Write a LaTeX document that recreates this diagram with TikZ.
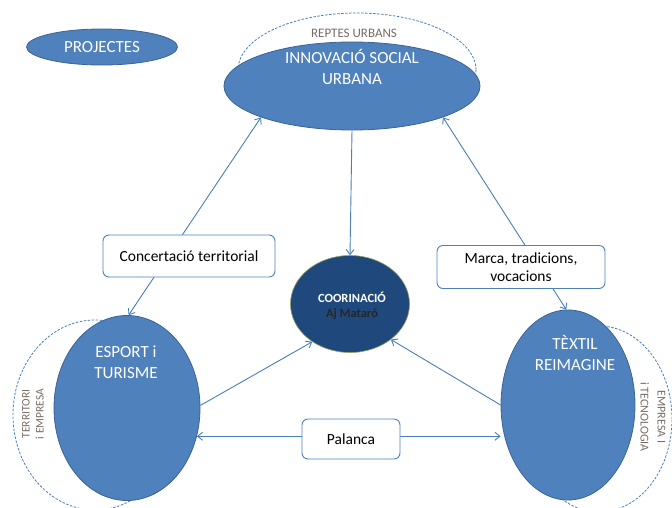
\documentclass[tikz,border=0pt]{standalone}
\usepackage{fontspec}
\setmainfont{Carlito}
\usetikzlibrary{shapes.geometric,arrows.meta}
\definecolor{blfill}{HTML}{4F81BD}
\definecolor{blline}{HTML}{3A6294}
\definecolor{arr}{HTML}{4A7EBB}
\definecolor{navy}{HTML}{1F497D}
\definecolor{lbl}{RGB}{118,108,100}
\definecolor{rim}{RGB}{150,160,90}
\begin{document}
\begin{tikzpicture}[x=1pt,y=-1pt,
  bub/.style={ellipse,fill=blfill,draw=blline,line width=0.8pt,inner sep=0pt},
  dashring/.style={ellipse,draw=arr,dashed,line width=0.8pt,dash pattern=on 2.5pt off 1.5pt,inner sep=0pt},
  bubtxt/.style={text=white,align=center,font=\fontsize{17}{21}\selectfont},
  conn/.style={draw=arr,line width=0.9pt,-{Straight Barb[length=5pt,width=8pt]}},
  conn2/.style={draw=arr,line width=0.9pt,{Straight Barb[length=5pt,width=8pt]}-{Straight Barb[length=5pt,width=8pt]}},
  lbox/.style={rectangle,rounded corners=6pt,draw=blfill,fill=white,line width=0.9pt,align=center,font=\fontsize{15.5}{18}\selectfont,inner sep=0pt},
  side/.style={text=lbl,align=center,font=\fontsize{11.5}{14}\selectfont,inner sep=0pt}]
\useasboundingbox (0,0) rectangle (672,508);
% dashed rings
\node[dashring,minimum width=238pt,minimum height=114pt] (rtop) at (357,70) {};
\node[dashring,minimum width=164pt,minimum height=190pt] (rleft) at (95,415) {};
\node[dashring,minimum width=146pt,minimum height=186pt] (rright) at (599,419) {};
% ellipses
\node[bub,minimum width=151pt,minimum height=36pt,text=white,font=\fontsize{17}{21}\selectfont] (proj) at (102,47) {PROJECTES};
\node[bub,minimum width=256pt,minimum height=88pt] (inno) at (352,86) {};
\node[bubtxt] (innot) at (352,67) {INNOVACIÓ SOCIAL\\URBANA};
\node[side,font=\fontsize{13}{15}\selectfont] (reptes) at (354,33) {REPTES URBANS};
\node[bub,minimum width=146pt,minimum height=185pt] (esp) at (127,408) {};
\node[bubtxt] (espt) at (126,362) {ESPORT i\\TURISME};
\node[bub,minimum width=134pt,minimum height=190pt] (tex) at (568,405) {};
\node[bubtxt] (text) at (575,353) {TÈXTIL\\REIMAGINE};
\node[ellipse,fill=navy,draw=rim,line width=0.6pt,minimum width=119pt,minimum height=97pt,inner sep=0pt] (coor) at (350,304) {};
\node[align=center,font=\fontsize{12.5}{15}\bfseries\selectfont] (coort) at (352,306) {\textcolor{white}{COORINACIÓ}\\\textcolor{black!85}{Aj Mataró}};
% side labels
\node[side,rotate=90] (terr) at (33,414) {TERRITORI\\i EMPRESA};
\node[side,rotate=-90,font=\fontsize{12}{17}\selectfont] (empr) at (653,417) {EMPRESA I\\i TECNOLOGIA};
% connectors
\draw[conn2] (inno.199) -- (esp.89);
\draw[conn2] (inno.-19) -- (tex.91);
\draw[conn] (inno.south) -- (coor.north);
\draw[conn] (esp.2) -- (coor.225);
\draw[conn] (tex.180) -- (coor.-41);
\draw[conn2] (esp.-22) -- (esp.-22 -| tex.west);
% boxes
\node[lbox,minimum width=172pt,minimum height=42pt] (conc) at (189,256) {Concertació territorial};
\node[lbox,minimum width=168pt,minimum height=43pt] (marca) at (521,267) {Marca, tradicions,\\vocacions};
\node[lbox,minimum width=98pt,minimum height=40pt] (pal) at (351,439) {Palanca};
\end{tikzpicture}
\end{document}
